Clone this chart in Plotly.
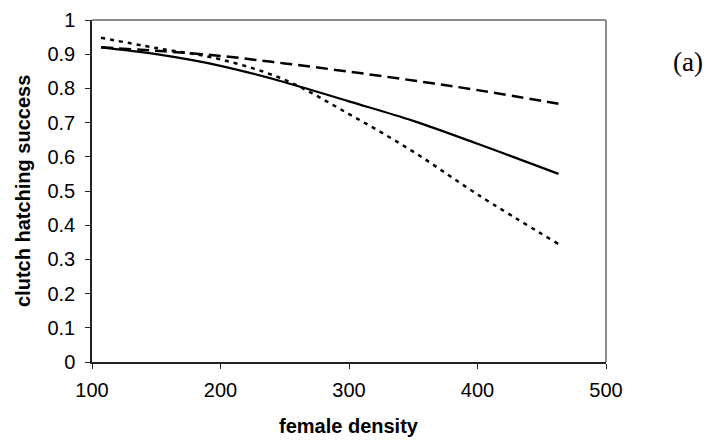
import plotly.graph_objects as go

# female density values at which the curves were read
density = [107, 150, 200, 250, 300, 350, 400, 463]

# clutch hatching success for the three model curves
solid_curve = [0.92, 0.90, 0.866, 0.818, 0.762, 0.705, 0.638, 0.55]
dashed_curve = [0.92, 0.91, 0.895, 0.873, 0.849, 0.823, 0.795, 0.755]
dotted_curve = [0.948, 0.918, 0.885, 0.825, 0.725, 0.615, 0.49, 0.345]

x_ticks = [100, 200, 300, 400, 500]
y_ticks = [0, 0.1, 0.2, 0.3, 0.4, 0.5, 0.6, 0.7, 0.8, 0.9, 1]
y_labels = ["0", "0.1", "0.2", "0.3", "0.4", "0.5", "0.6", "0.7", "0.8", "0.9", "1"]

fig = go.Figure()

fig.add_trace(go.Scatter(x=density, y=dashed_curve, mode="lines",
                         line=dict(color="black", width=2.5, dash="12px,6px"),
                         line_shape="spline", showlegend=False))
fig.add_trace(go.Scatter(x=density, y=dotted_curve, mode="lines",
                         line=dict(color="black", width=2.5, dash="4px,5px"),
                         line_shape="spline", showlegend=False))
fig.add_trace(go.Scatter(x=density, y=solid_curve, mode="lines",
                         line=dict(color="black", width=2.2),
                         line_shape="spline", showlegend=False))

sans = "Liberation Sans, Arial, sans-serif"
axis_font = dict(family=sans, size=20, color="black")
title_font = dict(family=sans, size=20, color="black")

fig.update_xaxes(range=[100, 500], tickvals=x_ticks, ticks="outside", ticklen=5,
                 tickcolor="#222222", showline=True, linecolor="#222222", linewidth=1.5,
                 showgrid=False, zeroline=False, tickfont=axis_font,
                 ticklabelstandoff=4)
fig.update_yaxes(range=[0, 1], tickvals=y_ticks, ticktext=y_labels, ticks="outside",
                 ticklen=5, tickcolor="#222222", showline=True, linecolor="#222222",
                 linewidth=1.5, showgrid=False, zeroline=False, tickfont=axis_font,
                 ticklabelstandoff=6)

# grey top and right frame lines
fig.add_shape(type="line", xref="paper", yref="paper", x0=0, x1=1, y0=1, y1=1,
              line=dict(color="#8c8c8c", width=2))
fig.add_shape(type="line", xref="paper", yref="paper", x0=1, x1=1, y0=0, y1=1,
              line=dict(color="#8c8c8c", width=2))

# axis titles
fig.add_annotation(text="<b>female density</b>", xref="paper", yref="paper",
                   x=0.5, y=0, yshift=-64, showarrow=False,
                   xanchor="center", yanchor="middle", font=title_font)
fig.add_annotation(text="<b>clutch hatching success</b>", xref="paper", yref="paper",
                   x=0, y=0.5, xshift=-69, showarrow=False, textangle=-90,
                   xanchor="center", yanchor="middle", font=title_font)

fig.add_annotation(text="(a)", xref="paper", yref="paper", x=1, y=0.877, xshift=82,
                   showarrow=False, xanchor="center", yanchor="middle",
                   font=dict(family="Liberation Serif, Times New Roman, serif",
                             size=27, color="black"))

# page body has an 8px margin, so the plot area is offset to compensate
fig.update_layout(width=712, height=448, plot_bgcolor="white", paper_bgcolor="white",
                  margin=dict(l=84, r=114, t=12, b=94, autoexpand=False))

fig.write_html("out.html")
